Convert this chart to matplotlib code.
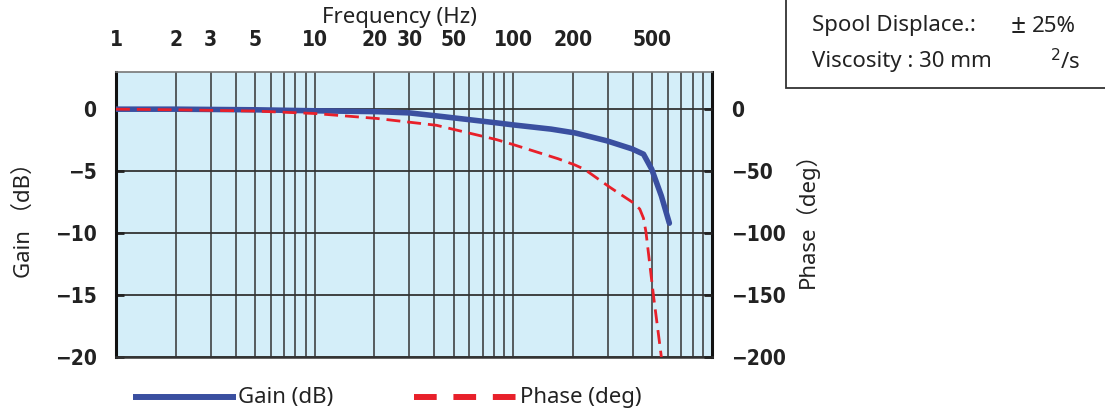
import matplotlib
matplotlib.use("Agg")
import matplotlib.pyplot as plt
from matplotlib.lines import Line2D
from matplotlib.patches import Rectangle
from matplotlib import font_manager
import numpy as np

# ---- data ----
freq_gain = [1, 2, 5, 10, 20.6, 30, 41, 82, 100, 155, 205, 295, 395, 452, 497, 556, 610]
gain_db = [0, 0, -0.05, -0.13, -0.2, -0.3, -0.54, -1.1, -1.27, -1.61, -1.92, -2.55, -3.2, -3.63, -4.84, -7.0, -9.2]

freq_phase = [1, 2, 5, 10, 20.6, 41, 82, 100, 168, 204, 228, 306, 397, 433, 452, 465, 508, 555, 565]
phase_deg = [0, -0.5, -1.5, -3.5, -7.5, -13, -24.5, -28.6, -40, -45, -48.5, -63, -75, -80.6, -88, -99, -151, -199, -212]

x_ticks = [1, 2, 3, 5, 10, 20, 30, 50, 100, 200, 500]
x_ticklabels = ["1", "2", "3", "5", "10", "20", "30", "50", "100", "200", "500"]
gain_ticks = [0, -5, -10, -15, -20]
phase_ticks = [0, -50, -100, -150, -200]

BLUE = "#3a4fa0"
RED = "#e8202a"
BG = "#d4eef9"
GRID = "#333333"
TXT = "#222222"

names = {f.name for f in font_manager.fontManager.ttflist}
if "Liberation Sans Narrow" in names:
    bold_font = dict(family=["Liberation Sans Narrow", "DejaVu Sans"], weight="bold", size=17)
else:
    bold_font = dict(family=["DejaVu Sans"], weight="bold", stretch="condensed", size=15)
reg_font = ["Noto Sans", "Noto Sans CJK JP", "DejaVu Sans"]
RS = 16

fig = plt.figure(figsize=(11.05, 4.13), dpi=100)
ax = fig.add_axes([116 / 1105, 1 - 357 / 413, (712 - 116) / 1105, (357 - 72) / 413])
ax.set_facecolor(BG)
ax.set_xscale("log")
ax.set_xlim(1, 1000)
ax.set_ylim(-20, 3)

minor = [m * 10 ** k for k in range(3) for m in range(1, 10)]
ax.set_xticks(minor, minor=True)
ax.set_xticks(x_ticks)
ax.set_xticklabels(x_ticklabels, fontdict=bold_font)
ax.xaxis.set_ticks_position("top")
ax.xaxis.set_label_position("top")
ax.tick_params(axis="x", which="both", length=0, pad=16, colors=TXT)
ax.tick_params(axis="x", which="minor", labeltop=False)
ax.grid(True, axis="x", which="both", color=GRID, lw=1.1)
ax.set_yticks(gain_ticks)
ax.set_yticklabels(["0", "\u22125", "\u221210", "\u221215", "\u221220"], fontdict=bold_font)
ax.grid(True, axis="y", which="major", color=GRID, lw=1.3)
ax.tick_params(axis="y", direction="in", length=6, width=2, pad=14, colors=TXT)
ax.set_xlabel("Frequency (Hz)", family=reg_font, fontsize=RS, color=TXT)
ax.xaxis.set_label_coords((399 - 116) / 596, 1 + (72 - 17) / 285)
ax.xaxis.label.set_va("center")
ax.set_ylabel("Gain （dB）", family=reg_font, fontsize=RS, labelpad=14, color=TXT)

for s in ["left", "right"]:
    ax.spines[s].set_linewidth(2.2)
    ax.spines[s].set_color("#111111")
ax.spines["top"].set_linewidth(1.2)
ax.spines["top"].set_color("#777777")
ax.spines["bottom"].set_linewidth(1.8)
ax.spines["bottom"].set_color("#333333")

ax.plot(freq_gain, gain_db, color=BLUE, lw=4.0, solid_capstyle="round", solid_joinstyle="round", zorder=3)

ax2 = ax.twinx()
ax2.set_ylim(-200, 30)
ax2.set_yticks(phase_ticks)
ax2.set_yticklabels(["0", "\u221250", "\u2212100", "\u2212150", "\u2212200"], fontdict=bold_font)
ax2.tick_params(axis="y", direction="in", length=6, width=2, pad=14, colors=TXT)
ax2.set_ylabel("Phase（deg）", family=reg_font, fontsize=RS, labelpad=6, color=TXT)
for s in ax2.spines.values():
    s.set_visible(False)
ax2.plot(freq_phase, phase_deg, color=RED, lw=2.0, dashes=(5, 2.5), zorder=4)

# legend (manual, below plot)
ly = 1 - 397 / 413
fig.add_artist(Line2D([133 / 1105, 236 / 1105], [ly, ly], transform=fig.transFigure,
                      color=BLUE, lw=4.3, solid_capstyle="butt"))
fig.text(238 / 1105, ly, "Gain (dB)", family=reg_font, fontsize=RS, va="center", ha="left", color=TXT)
fig.add_artist(Line2D([414 / 1105, 518 / 1105], [ly, ly], transform=fig.transFigure,
                      color=RED, lw=4.3, dashes=(3.8, 2.8), dash_capstyle="butt"))
fig.text(520 / 1105, ly, "Phase (deg)", family=reg_font, fontsize=RS, va="center", ha="left", color=TXT)

# info box (top right)
fig.add_artist(Rectangle((786 / 1105, 1 - 88 / 413), 0.4, 0.3, transform=fig.transFigure,
                         facecolor="white", edgecolor="#333333", lw=1.3, clip_on=False))
fig.text(812 / 1105, 1 - 26 / 413, "Spool Displace.:", family=reg_font, fontsize=RS, va="center", color=TXT)
fig.text(1011 / 1105, 1 - 26 / 413, "±", family=reg_font, fontsize=RS + 3, va="center", color=TXT)
fig.text(1032 / 1105, 1 - 26 / 413, "25%", family=reg_font, fontsize=RS, va="center", color=TXT)
fig.text(812 / 1105, 1 - 62 / 413, "Viscosity : 30 mm", family=reg_font, fontsize=RS, va="center", color=TXT)
fig.text(1050 / 1105, 1 - 62 / 413, "$^2$/s", family=reg_font, fontsize=RS, va="center", color=TXT)

fig.savefig("out.png", dpi=100)
